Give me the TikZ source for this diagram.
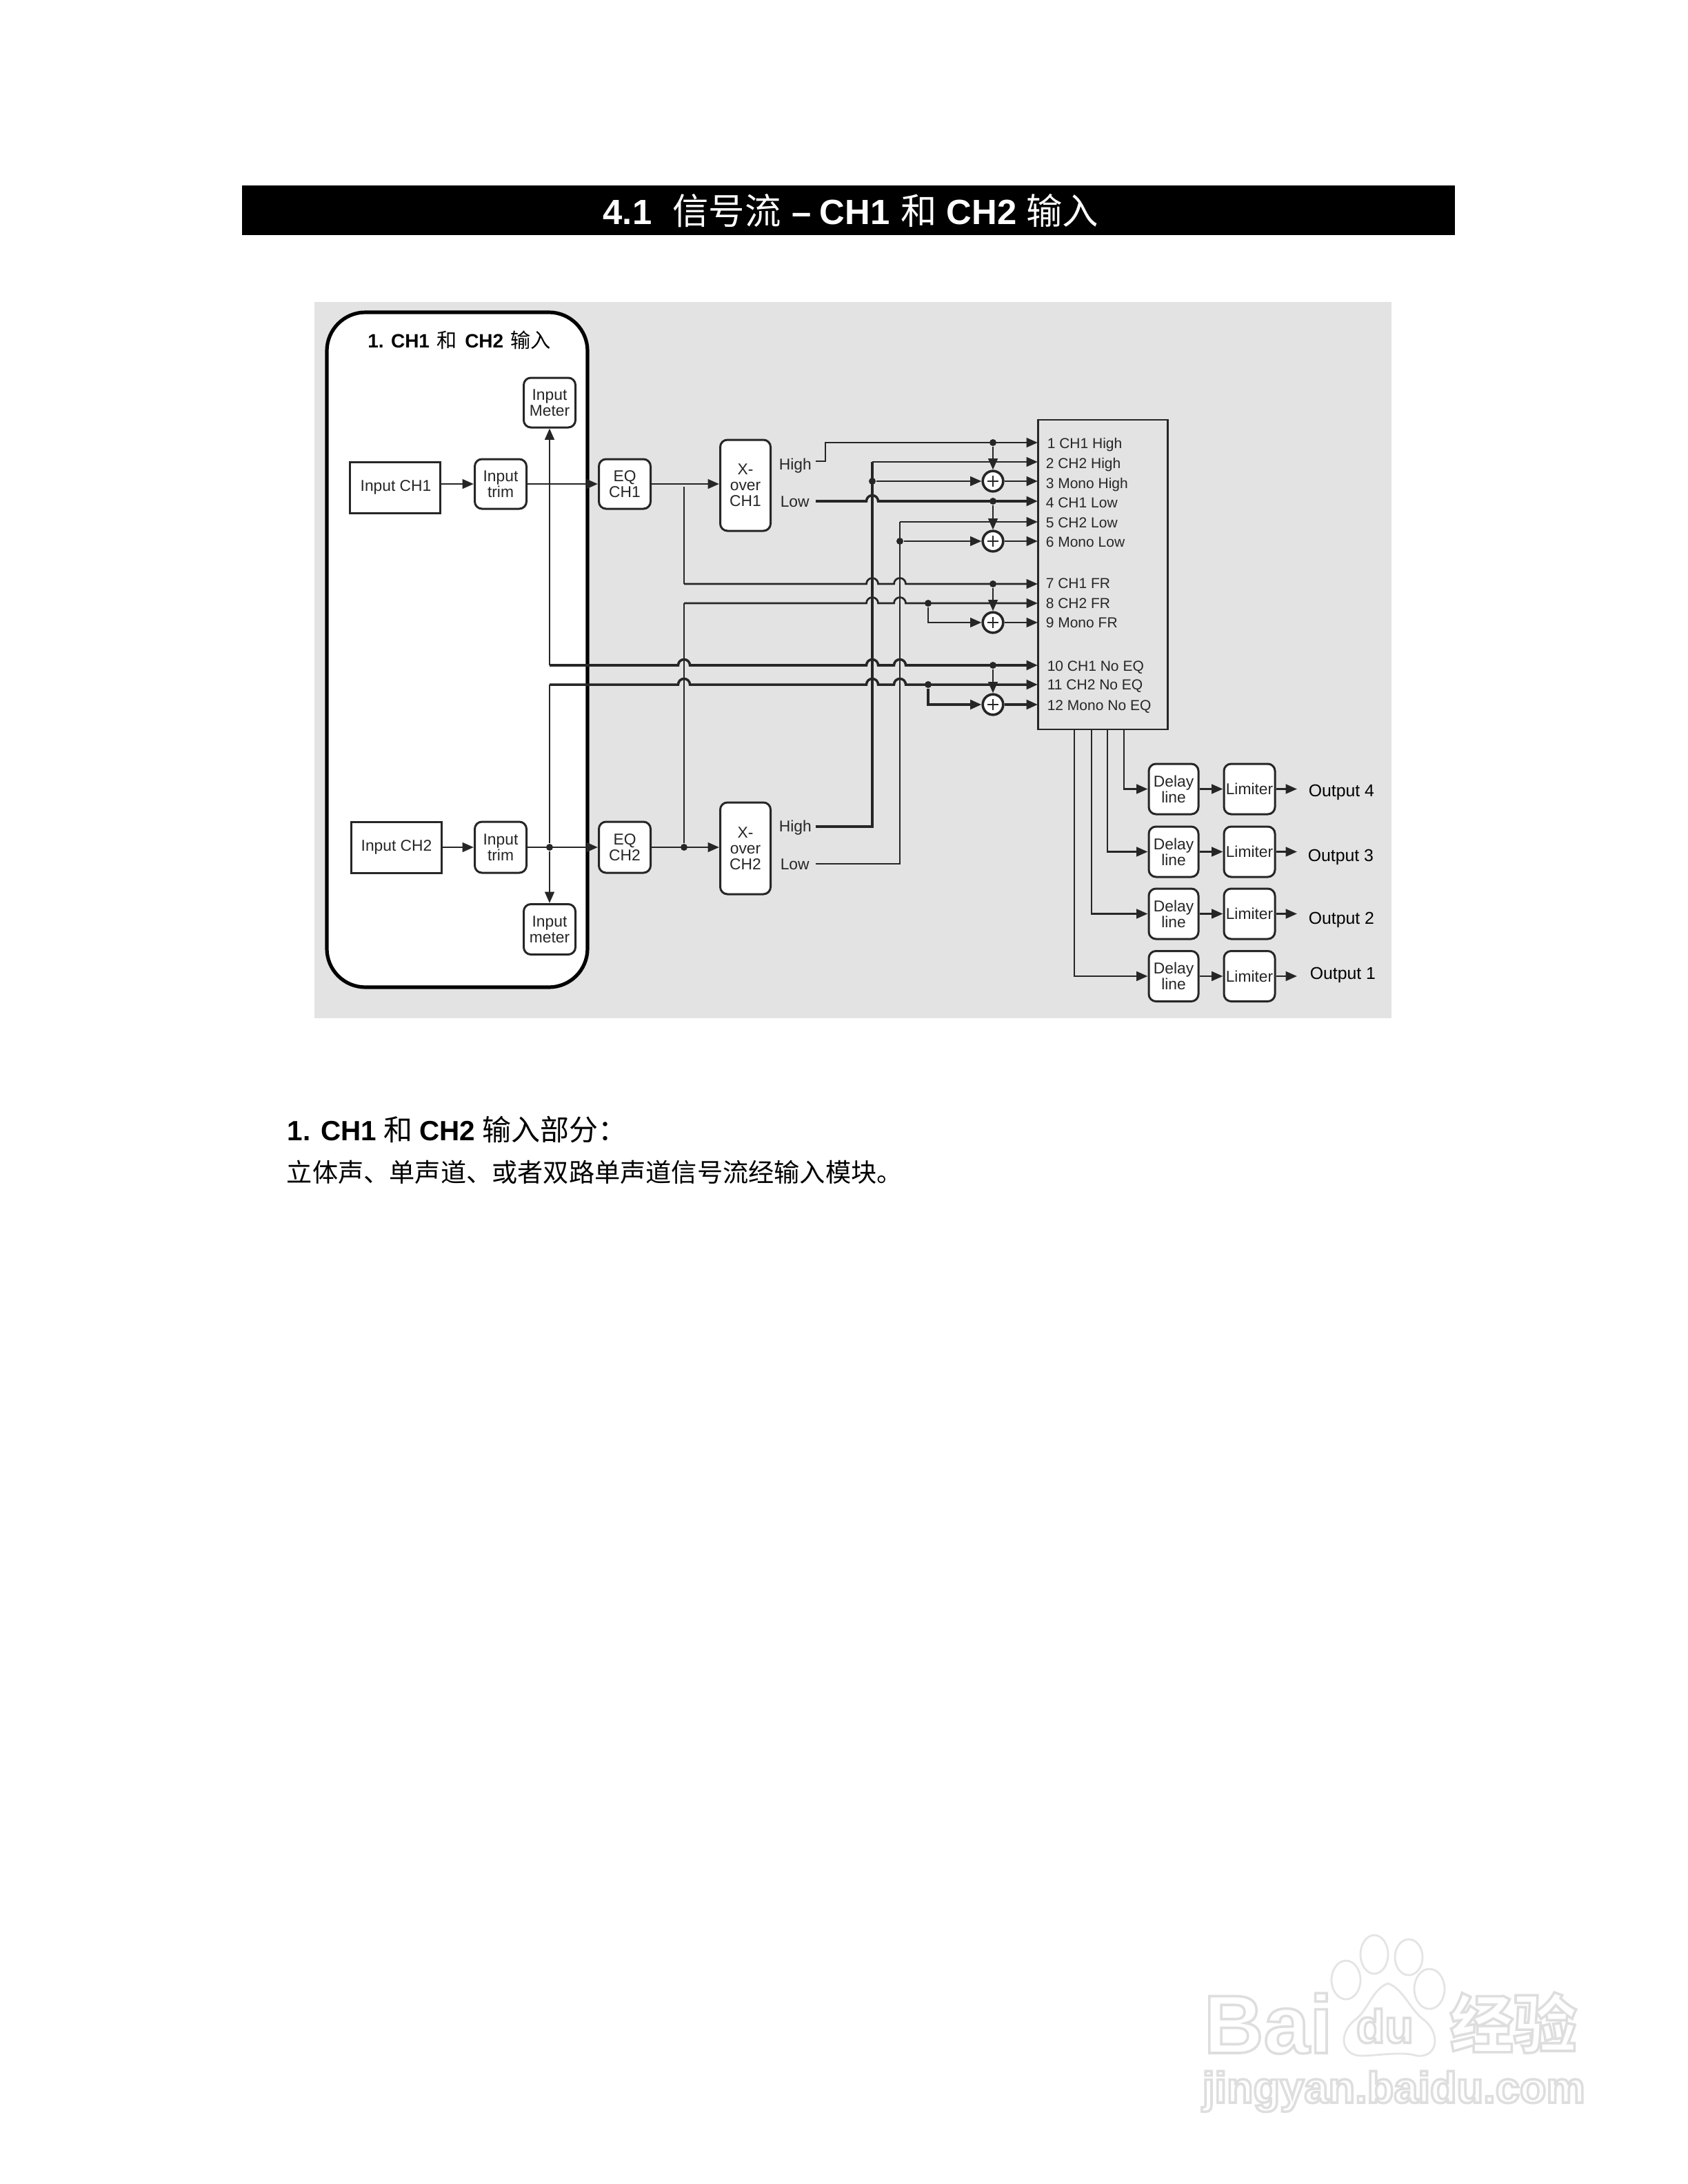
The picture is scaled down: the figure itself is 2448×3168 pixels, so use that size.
\documentclass[tikz,border=0pt]{standalone}
\usepackage{fontspec}
\setmainfont{Liberation Sans}
\newfontfamily\cjk{Noto Sans CJK SC}
\usetikzlibrary{arrows.meta}
\definecolor{panelgray}{HTML}{E3E3E3}
\definecolor{ink}{HTML}{262626}
\definecolor{wm}{HTML}{E4E4E4}
\newcommand\fsz[1]{\fontsize{#1}{#1}\selectfont}
\newcommand\hopover[2]{-- (#1-8.5,#2) arc[start angle=180,end angle=0,radius=2.125pt]}
\newcommand\outl[1]{\special{pdf:code 1 Tr 0.87 G 0.9 w}#1\special{pdf:code 0 Tr 0 G 1 w}}
\tikzset{
  wh/.style 2 args={minimum width=#1*0.25pt,minimum height=#2*0.25pt,inner sep=0pt},
  ln/.style={draw=ink,line width=0.68pt},
  lnb/.style={draw=ink,line width=0.88pt},
  arr/.style={-{Triangle[length=4.1pt,width=3.4pt]}},
  rbox/.style={draw=ink,line width=0.75pt,rounded corners=2.6pt,fill=white,text=ink,align=center,font=\fsz{5.7pt}},
  sbox/.style={draw=ink,line width=0.75pt,text=ink,font=\fsz{5.7pt}},
  jdot/.style={circle,fill=ink,minimum size=2.5pt,inner sep=0pt},
  adder/.style={circle,draw=ink,line width=0.9pt,fill=white,minimum size=7.4pt,inner sep=0pt},
  lab/.style={text=ink,font=\fsz{5.7pt},inner sep=0pt},
  port/.style={text=ink,font=\fsz{5.25pt},inner sep=0pt,anchor=base west},
  outp/.style={text=black,font=\fsz{6.2pt},inner sep=0pt,anchor=west},
  wmline/.style={draw=wm,line width=0.7pt},
}
\begin{document}
\begin{tikzpicture}[x=0.25pt,y=-0.25pt]
\useasboundingbox (0,0) rectangle (2448,3168);
\fill[white] (0,0) rectangle (2448,3168);

% title bar
\fill[black] (351,269) rectangle (2110,341);
\node[text=white,font=\fsz{12.7pt}\bfseries,inner sep=0pt] (title) at (1234,306)
  {4.1\hspace{7.5pt}{\cjk\mdseries\fsz{13.1pt}信号流}\hspace{4pt}–\hspace{3pt}CH1\hspace{4pt}{\cjk\mdseries\fsz{13.1pt}和}\hspace{3.5pt}CH2\hspace{3.5pt}{\cjk\mdseries\fsz{13.1pt}输入}};

% diagram ground and panel
\fill[panelgray] (456,438) rectangle (2018,1477);
\draw[black,line width=1.3pt,fill=white,rounded corners=14pt] (474,453) rectangle (852,1432);
\node[text=black,font=\fsz{7pt}\bfseries,inner sep=0pt] (ptitle) at (666,493)
  {1. CH1\hspace{2.5pt}{\cjk\mdseries\fsz{7.3pt}和}\hspace{3pt}CH2\hspace{2.5pt}{\cjk\mdseries\fsz{7.3pt}输入}};

% blocks
\node[sbox,wh={131}{74}] (in1) at (573,707) {\hspace{0.5pt}Input CH1};
\node[sbox,wh={131}{74}] (in2) at (575,1229) {Input CH2\hspace{2.5pt}};
\node[rbox,wh={75}{72}] (tr1) at (726,702) {Input\\trim};
\node[rbox,wh={75}{74}] (tr2) at (726,1229) {Input\\trim};
\node[rbox,wh={75}{72}] (m1) at (797,584) {Input\\Meter};
\node[rbox,wh={75}{73}] (m2) at (797,1348) {Input\\meter};
\node[rbox,wh={75}{72}] (eq1) at (906,702) {EQ\\CH1};
\node[rbox,wh={75}{74}] (eq2) at (906,1229) {EQ\\CH2};
\node[rbox,wh={73}{132}] (x1) at (1081,704) {X-\\over\\CH1};
\node[rbox,wh={73}{133}] (x2) at (1081,1230.5) {X-\\over\\CH2};

\node[lab,anchor=west] (hi1) at (1129,676) {High};
\node[lab,anchor=west] (lo1) at (1131,728) {Low};
\node[lab,anchor=west] (hi2) at (1129,1201) {High};
\node[lab,anchor=west] (lo2) at (1131,1254) {Low};
\coordinate (hi1s) at (1183,669);
\coordinate (lo1s) at (1183,727);
\coordinate (hi2s) at (1183,1199);
\coordinate (lo2s) at (1183,1253);

% router box
\node[draw=ink,line width=0.72pt,minimum width=47pt,minimum height=112.25pt,inner sep=0pt] (rt) at (1599.5,833.5) {};
\foreach \n/\y in {1/642,2/670,3/698,4/727,5/757,6/785,7/847,8/875,9/903,10/965,11/993,12/1022}
  \coordinate (p\n) at (1505,\y);
\foreach \n/\x/\y/\t in {
  l1/1518/650/{1 CH1 High},l2/1516/679/{2 CH2 High},l3/1516/708/{3 Mono High},
  l4/1516/736/{4 CH1 Low},l5/1516/765/{5 CH2 Low},l6/1516/793/{6 Mono Low},
  l7/1516/853/{7 CH1 FR},l8/1516/882/{8 CH2 FR},l9/1516/910/{9 Mono FR},
  l10/1518/973/{10 CH1 No EQ},l11/1518/1000/{11 CH2 No EQ},l12/1518/1030/{12 Mono No EQ}}
  \node[port] (\n) at (\x,\y) {\t};

% junction dots
\node[jdot] (j1) at (1440,642) {};
\node[jdot] (j4) at (1440,727) {};
\node[jdot] (j7) at (1440,847) {};
\node[jdot] (j10) at (1440,965) {};
\node[jdot] (j3) at (1265,698) {};
\node[jdot] (j6) at (1305,785) {};
\node[jdot] (j8) at (1346,875) {};
\node[jdot] (j11) at (1346,993) {};
\node[jdot] (jm) at (797,1229) {};
\node[jdot] (jq) at (992,1229) {};

% adders
\node[adder] (a3) at (1440,698) {};
\node[adder] (a6) at (1440,785) {};
\node[adder] (a9) at (1440,903) {};
\node[adder] (a12) at (1440,1022) {};
\foreach \a in {a3,a6,a9,a12}{
  \draw[ln] ([xshift=-1.9pt]\a.center) -- ([xshift=1.9pt]\a.center);
  \draw[ln] ([yshift=-1.9pt]\a.center) -- ([yshift=1.9pt]\a.center);
}

% input chain
\draw[ln,arr] (in1.east|-tr1.west) -- (tr1.west);
\draw[ln,arr] (tr1.east) -- (eq1.west);
\draw[ln,arr] (eq1.east) -- (x1.west|-eq1.east);
\draw[ln,arr] (in2.east) -- (tr2.west);
\draw[ln,arr] (tr2.east) -- (eq2.west);
\draw[ln,arr] (eq2.east) -- (x2.west|-eq2.east);

% meter feeds
\coordinate (c10) at (797,965);
\coordinate (c11) at (797,993);
\draw[ln,arr] (c10) -- (m1.south);
\draw[ln,arr] (jm) -- (m2.north);
\draw[ln] (c11) -- (jm);

% tap after EQ
\coordinate (c7) at (992,847);
\coordinate (c8) at (992,875);
\coordinate (t1) at (992,706);
\draw[ln] (t1) -- (c7);
\draw[ln] (c8) -- (jq);

% vertical buses
\coordinate (b2) at (1265,670);
\coordinate (b5) at (1305,757);
\coordinate (bh) at (1265,1199);
\coordinate (bl) at (1305,1253);
\draw[lnb] (hi2s) -- (bh) -- (b2);
\draw[ln] (lo2s) -- (bl) -- (b5);

% rows to the router
\draw[ln,arr] (hi1s) -- (1197,669) -- (1197,642) -- (p1);
\draw[ln,arr] (b2) -- (p2);
\draw[ln,arr] (j3) -- (a3.west);
\draw[ln,arr] (a3.east) -- (p3);
\draw[lnb,arr] (lo1s) \hopover{1265}{727} -- (p4);
\draw[ln,arr] (b5) -- (p5);
\draw[ln,arr] (j6) -- (a6.west);
\draw[ln,arr] (a6.east) -- (p6);
\draw[ln,arr] (c7) \hopover{1265}{847} \hopover{1305}{847} -- (p7);
\draw[ln,arr] (c8) \hopover{1265}{875} \hopover{1305}{875} -- (p8);
\draw[ln,arr] (j8) |- (a9.west);
\draw[ln,arr] (a9.east) -- (p9);
\draw[lnb,arr] (c10) \hopover{992}{965} \hopover{1265}{965} \hopover{1305}{965} -- (p10);
\draw[lnb,arr] (c11) \hopover{992}{993} \hopover{1265}{993} \hopover{1305}{993} -- (p11);
\draw[lnb,arr] (j11) |- (a12.west);
\draw[lnb,arr] (a12.east) -- (p12);

% summing feeds
\draw[ln,arr] (j1) -- (a3.north);
\draw[ln,arr] (j4) -- (a6.north);
\draw[ln,arr] (j7) -- (a9.north);
\draw[ln,arr] (j10) -- (a12.north);

% outputs
\foreach \i/\y/\sx/\lx/\ly/\t in {4/1144.5/1630/1897/1149/{Output 4},3/1235.5/1606/1896/1243/{Output 3},2/1325.5/1583/1897/1334/{Output 2},1/1416/1558/1899/1414/{Output 1}}{
  \node[rbox,wh={72}{73}] (del\i) at (1702,\y) {Delay\\line};
  \node[rbox,wh={74}{73}] (lim\i) at (1812,\y) {Limiter};
  \coordinate (s\i) at (\sx,1058);
  \coordinate (e\i) at (1881,\y);
  \node[outp] (out\i) at (\lx,\ly) {\t};
  \draw[ln,arr] (s\i) |- (del\i.west);
  \draw[ln,arr] (del\i.east) -- (lim\i.west);
  \draw[ln,arr] (lim\i.east) -- (e\i);
}

% body text
\node[text=black,font=\fsz{10.1pt}\bfseries,inner sep=0pt,anchor=west] (h1) at (416,1638)
  {1. CH1\hspace{2.5pt}{\cjk\mdseries\fsz{10.5pt}和}\hspace{2.5pt}CH2\hspace{2.5pt}{\cjk\mdseries\fsz{10.5pt}输入部分：}};
\node[text=black,font=\cjk\fsz{9.3pt},inner sep=0pt,anchor=west] (b1) at (415,1700)
  {立体声、单声道、或者双路单声道信号流经输入模块。};

% watermark
\foreach \x/\y/\rx/\ry in {1952/2872/21/28,1993/2835/20/28,2043/2839/20/26,2073/2885/22/29}
  \draw[wmline,fill=white] (\x,\y) ellipse[x radius=\rx*0.25pt,y radius=\ry*0.25pt];
\draw[wmline,fill=white] (2013,2877) .. controls (1990,2885) and (1985,2915) .. (1965,2930)
  .. controls (1940,2950) and (1945,2982) .. (1975,2982) .. controls (1995,2982) and (2035,2975) .. (2055,2982)
  .. controls (2085,2985) and (2090,2950) .. (2065,2930) .. controls (2045,2915) and (2035,2885) .. (2013,2877);
\node[inner sep=0pt,font=\fsz{30pt}\bfseries,anchor=base west] (wb) at (1745,2978) {\outl{Bai}};
\node[inner sep=0pt,font=\fsz{17pt}\bfseries,anchor=base west] (wd) at (1966,2963) {\outl{du}};
\node[inner sep=0pt,font=\cjk\bfseries\fsz{23pt},anchor=west] (wj) at (2102,2934) {\outl{经验}};
\node[inner sep=0pt,font=\fsz{15.8pt}\bfseries,anchor=base west] (wu) at (1743,3050) {\outl{jingyan.baidu.com}};
\end{tikzpicture}
\end{document}
